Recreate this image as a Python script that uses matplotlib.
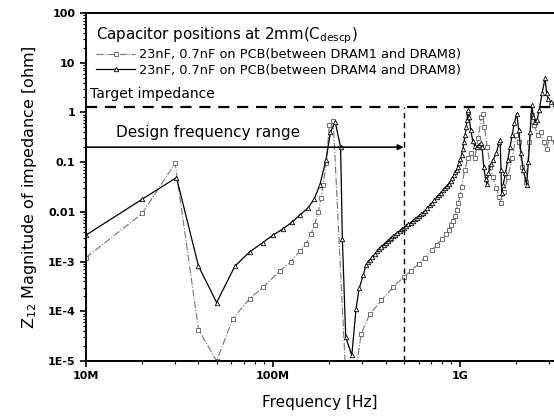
import numpy as np
from matplotlib import pyplot as plt

# DRAM1-DRAM8 case (open squares), frequency in MHz, |Z12| in ohm
f_sq = [10, 20, 30, 40, 50, 61, 75, 89, 109, 125, 139, 150, 160, 167, 175, 181,
        185, 193, 200, 210, 245,
        280, 296, 330, 380, 440, 500, 550, 600, 650, 706, 750, 800, 840, 870,
        900, 920, 940, 958, 980, 1000, 1020,
        1060, 1100, 1150, 1200, 1250, 1300, 1320, 1350, 1400, 1450, 1500, 1560,
        1620, 1660, 1720, 1800, 1900, 2000, 2060, 2150, 2250, 2350, 2420, 2500,
        2600, 2700, 2800, 2900, 3000, 3200]
z_sq = [1.2e-3, 9.3e-3, 0.095, 4.3e-5, 1.0e-5, 7.1e-5, 1.8e-4, 3.1e-4, 6.5e-4,
        1.0e-3, 1.6e-3, 2.3e-3, 3.6e-3, 5.5e-3, 0.010, 0.019,
        0.035, 0.095, 0.55, 0.68, 5e-6,
        8e-6, 3.5e-5, 8.9e-5, 1.66e-4, 3.1e-4, 4.9e-4, 6.6e-4, 9e-4, 1.2e-3,
        1.7e-3, 2.2e-3, 2.8e-3, 3.6e-3, 4.3e-3, 5.4e-3, 6.5e-3, 8.2e-3, 0.0108,
        0.015, 0.022, 0.032,
        0.07, 0.12, 0.15, 0.12, 0.3, 0.8, 0.95, 0.5, 0.2, 0.08, 0.05, 0.03,
        0.02, 0.015, 0.025, 0.05, 0.12, 0.35, 0.25, 0.08, 0.04, 0.25, 0.9, 0.55,
        0.35, 0.4, 0.25, 0.18, 0.3, 0.25]

# DRAM4-DRAM8 case (open triangles)
f_tri = [10, 20, 30.5, 40, 50, 62.6, 75, 88, 100, 113.5, 127, 139, 154, 166,
         178, 192, 203, 215, 230, 235, 245, 264, 278, 289, 304, 314,
         322, 330, 340, 350, 360, 370, 380, 390, 400, 410, 420, 430, 440, 450,
         462, 475, 487, 500, 515, 530, 545, 560, 575, 590, 605, 620, 635, 650,
         670, 690, 710, 730, 750, 770, 790, 810, 830, 850, 870, 890, 910, 930,
         945, 960, 975, 990, 1005, 1020, 1035, 1050, 1065, 1080, 1090, 1100,
         1110, 1120, 1140, 1170, 1200, 1230, 1260, 1290, 1310, 1340, 1370,
         1390, 1420, 1460, 1500, 1560, 1620, 1640, 1655, 1670, 1700, 1750,
         1800, 1850, 1900, 1950, 2010, 2060, 2120, 2180, 2270, 2320, 2370,
         2420, 2470, 2520, 2580, 2650, 2750, 2850, 2900, 2960, 3050, 3200]
z_tri = [3.4e-3, 0.018, 0.049, 8.1e-4, 1.5e-4, 8.1e-4, 1.56e-3, 2.4e-3, 3.4e-3,
         4.6e-3, 6.3e-3, 8.6e-3, 0.012, 0.018, 0.0345, 0.11, 0.4, 0.65, 0.2,
         2.9e-3, 3e-5, 1.3e-5, 1.1e-4, 2.9e-4, 5.3e-4, 8.4e-4,
         9.7e-4, 1.1e-3, 1.25e-3, 1.4e-3, 1.6e-3, 1.8e-3, 2.0e-3, 2.2e-3,
         2.4e-3, 2.6e-3, 2.8e-3, 3.0e-3, 3.25e-3, 3.5e-3, 3.8e-3, 4.1e-3,
         4.45e-3, 4.8e-3, 5.2e-3, 5.6e-3, 6.1e-3, 6.6e-3, 7.1e-3, 7.7e-3,
         8.3e-3, 9.0e-3, 9.7e-3, 0.0105, 0.012, 0.0135, 0.015, 0.017, 0.0195,
         0.022, 0.0245, 0.027, 0.030, 0.033, 0.037, 0.042, 0.048, 0.055,
         0.062, 0.07, 0.08, 0.095, 0.115, 0.14, 0.18, 0.25, 0.35, 0.5, 0.7, 1.0,
         1.1, 0.8, 0.45, 0.27, 0.21, 0.2, 0.22, 0.24, 0.2, 0.08, 0.045,
         0.037, 0.06, 0.09, 0.11, 0.15, 0.25, 0.28, 0.07, 0.024, 0.035, 0.06,
         0.11, 0.2, 0.35, 0.6, 0.95, 0.45, 0.15, 0.07, 0.035, 0.1, 0.4,
         1.4, 0.8, 0.65, 0.7, 1.1, 2.5, 4.9, 2.5, 1.9, 1.6, 1.5]

target_z = 1.3          # target impedance [ohm]
design_fmax = 500e6     # upper end of design frequency range [Hz]
design_level = 0.2

y_ticks = [1e-5, 1e-4, 1e-3, 1e-2, 1e-1, 1, 10, 100]
y_labels = ["1E-5", "1E-4", "1E-3", "0.01", "0.1", "1", "10", "100"]
x_ticks = [1e7, 1e8, 1e9]
x_labels = ["10M", "100M", "1G"]

fig = plt.figure(figsize=(5.54, 4.19), dpi=100)
ax = fig.add_axes([0.155, 0.1384, 0.845, 0.8305])

ax.plot(np.array(f_sq) * 1e6, z_sq, color='0.45', ls='-.', lw=0.8,
        marker='s', ms=2.8, mfc='white', mec='0.35', mew=0.6,
        label='23nF, 0.7nF on PCB(between DRAM1 and DRAM8)')
ax.plot(np.array(f_tri) * 1e6, z_tri, color='black', ls='-', lw=0.9,
        marker='^', ms=3.2, mfc='white', mec='black', mew=0.6,
        label='23nF, 0.7nF on PCB(between DRAM4 and DRAM8)')

ax.set_xscale('log')
ax.set_yscale('log')
ax.set_xlim(1e7, 3.18e9)
ax.set_ylim(1e-5, 100)

# target impedance and design range
ax.axhline(target_z, color='black', lw=1.6, ls=(0, (5, 3.5)))
ax.plot([design_fmax, design_fmax], [1e-5, target_z], color='black', lw=1.0,
        ls=(0, (4, 3)))
ax.annotate('', xy=(design_fmax, design_level), xytext=(1e7, design_level),
            arrowprops=dict(arrowstyle='-|>', color='black', lw=1.2,
                            mutation_scale=8, shrinkA=0, shrinkB=0))
ax.text(1.05e7, 2.3, 'Target impedance', fontsize=10, va='center', ha='left')
ax.text(1.45e7, 0.4, 'Design frequency range', fontsize=11, va='center',
        ha='left')

leg = ax.legend(loc='upper left', bbox_to_anchor=(0.0, 0.995), frameon=False,
                title='Capacitor positions at 2mm(C$_{\\mathregular{descp}}$)',
                fontsize=9.3, title_fontsize=10.8, handlelength=3.0,
                handletextpad=0.3, labelspacing=0.2, borderaxespad=0.4)
leg._legend_box.align = 'left'

ax.set_xticks(x_ticks)
ax.set_xticklabels(x_labels, fontsize=8, fontweight='bold')
ax.set_yticks(y_ticks)
ax.set_yticklabels(y_labels, fontsize=8, fontweight='bold')
ax.tick_params(which='major', direction='out', length=4, width=1.2)
ax.tick_params(which='minor', direction='out', length=2.5, width=0.8)
ax.yaxis.set_minor_locator(plt.matplotlib.ticker.LogLocator(base=10, subs=np.arange(2, 10) * 1.0, numticks=20))
ax.yaxis.set_minor_formatter(plt.NullFormatter())

ax.spines['right'].set_visible(False)
for side in ['left', 'bottom', 'top']:
    ax.spines[side].set_linewidth(1.4)

ax.set_xlabel('Frequency [Hz]', fontsize=11, labelpad=10)
ax.set_ylabel('Z$_{\\mathregular{12}}$ Magnitude of impedance [ohm]',
              fontsize=11.5, labelpad=6)

plt.savefig('out.png', dpi=100)
